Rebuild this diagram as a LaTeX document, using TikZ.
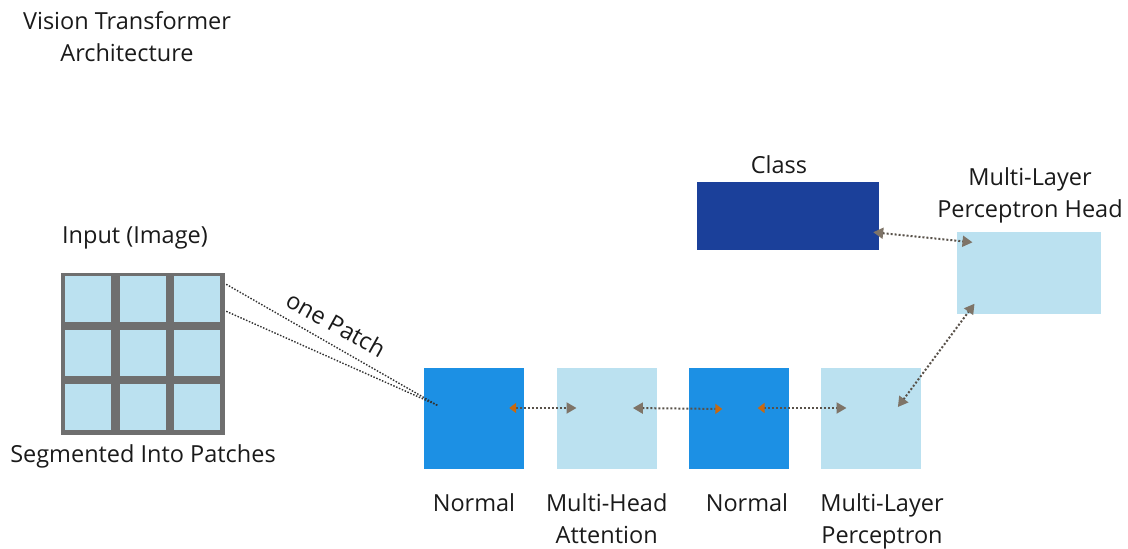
\documentclass[tikz,border=0pt]{standalone}
\usepackage{fontspec}
\setmainfont{Open Sans}
\usetikzlibrary{arrows.meta,calc}
\definecolor{normalblue}{HTML}{1C90E4}
\definecolor{paleblue}{HTML}{BBE1F0}
\definecolor{classblue}{HTML}{1B409A}
\definecolor{gridgray}{HTML}{6F6F6F}
\definecolor{tipgray}{HTML}{7E7468}
\definecolor{tiporange}{HTML}{C8690F}
\definecolor{textcol}{HTML}{1A1A1A}
\tikzset{
  lbl/.style={text=textcol, font=\fontsize{23.5}{32}\selectfont, align=center, inner sep=0pt},
  block/.style={minimum width=100pt, minimum height=101pt, inner sep=0pt, draw=none},
  cell/.style={fill=paleblue, minimum width=46pt, minimum height=46pt, inner sep=0pt},
  link/.style={draw=tipgray!70!black, line width=2pt, dash pattern=on 2pt off 2pt},
  bothgray/.style={link, {Triangle[tipgray,length=10pt,width=11pt]}-{Triangle[tipgray,length=10pt,width=11pt]}},
  orangegray/.style={link, {Triangle[tiporange,length=7pt,width=10pt]}-{Triangle[tipgray,length=10pt,width=11pt]}},
  grayorange/.style={link, {Triangle[tipgray,length=10pt,width=11pt]}-{Triangle[tiporange,length=7pt,width=10pt]}},
  patchline/.style={draw=black!80, line width=1.4pt, dash pattern=on 1.5pt off 1.6pt}
}
\begin{document}
\begin{tikzpicture}[x=1pt,y=-1pt]
\useasboundingbox (0,0) rectangle (1128,549);

% title
\node[lbl] (title) at (127,36.5) {Vision Transformer\\Architecture};

% input image split into a 3x3 grid of patches
\node[lbl] (inlbl) at (135,238) {Input (Image)};
\node[fill=gridgray, minimum width=164pt, minimum height=162pt, inner sep=0pt] (grid) at (142.5,353.5) {};
\foreach \c/\x in {1/88.3,2/143,3/197}{
  \foreach \r/\y in {1/299,2/352.5,3/406.5}{
    \node[cell] (cell\r\c) at (\x,\y) {};
  }
}
\node[lbl] (seglbl) at (143,456) {Segmented Into Patches};

% encoder blocks
\node[block, fill=normalblue] (norm1) at (474,418.5) {};
\node[block, fill=paleblue] (mha) at (606.7,418.5) {};
\node[block, fill=normalblue] (norm2) at (738.5,418.5) {};
\node[block, fill=paleblue] (mlp) at (870.7,418.5) {};

\node[lbl] (norm1lbl) at (474,503) {Normal};
\node[lbl, anchor=north] (mhalbl) at (606.7,493) {Multi-Head\\Attention};
\node[lbl] (norm2lbl) at (747,503) {Normal};
\node[lbl, anchor=north] (mlplbl) at (882,493) {Multi-Layer\\Perceptron};

% class token and head
\node[fill=classblue, minimum width=182pt, minimum height=68pt, inner sep=0pt] (class) at (788,216) {};
\node[lbl] (classlbl) at (779,165) {Class};
\node[fill=paleblue, minimum width=144pt, minimum height=82pt, inner sep=0pt] (head) at (1028.7,272.5) {};
\node[lbl, anchor=north] (headlbl) at (1030,167) {Multi-Layer\\Perceptron Head};

% one patch fed into the first block
\coordinate (p1) at ($(grid.north east)+(1.5,12)$);
\coordinate (p2) at ($(grid.north east)+(1.5,39)$);
\coordinate (pin) at ($(norm1.west)+(14,-13)$);
\draw[patchline] (p1) -- (pin);
\draw[patchline] (p2) -- (pin);
\node[lbl, rotate=-29] (patchlbl) at (336,324) {one Patch};

% connections between blocks
\coordinate (a1s) at ($(norm1.east)+(-15,-10.5)$);
\coordinate (a1e) at ($(mha.west)+(20,-10.5)$);
\coordinate (a2s) at ($(mha.east)+(-24,-10.5)$);
\coordinate (a2e) at ($(norm2.west)+(34,-9.5)$);
\coordinate (a3s) at ($(norm2.east)+(-31,-10.5)$);
\coordinate (a3e) at ($(mlp.west)+(26,-10.5)$);
\coordinate (a4s) at ($(mlp.east)+(-23,-11.5)$);
\coordinate (a4e) at ($(head.south west)+(18,-10)$);
\coordinate (a5s) at ($(class.south east)+(-6,-18)$);
\coordinate (a5e) at ($(head.north west)+(16,11)$);

\draw[orangegray] (a1s) -- (a1e);
\draw[grayorange] (a2s) -- (a2e);
\draw[orangegray] (a3s) -- (a3e);
\draw[bothgray] (a4s) -- (a4e);
\draw[bothgray] (a5s) -- (a5e);
\end{tikzpicture}
\end{document}
